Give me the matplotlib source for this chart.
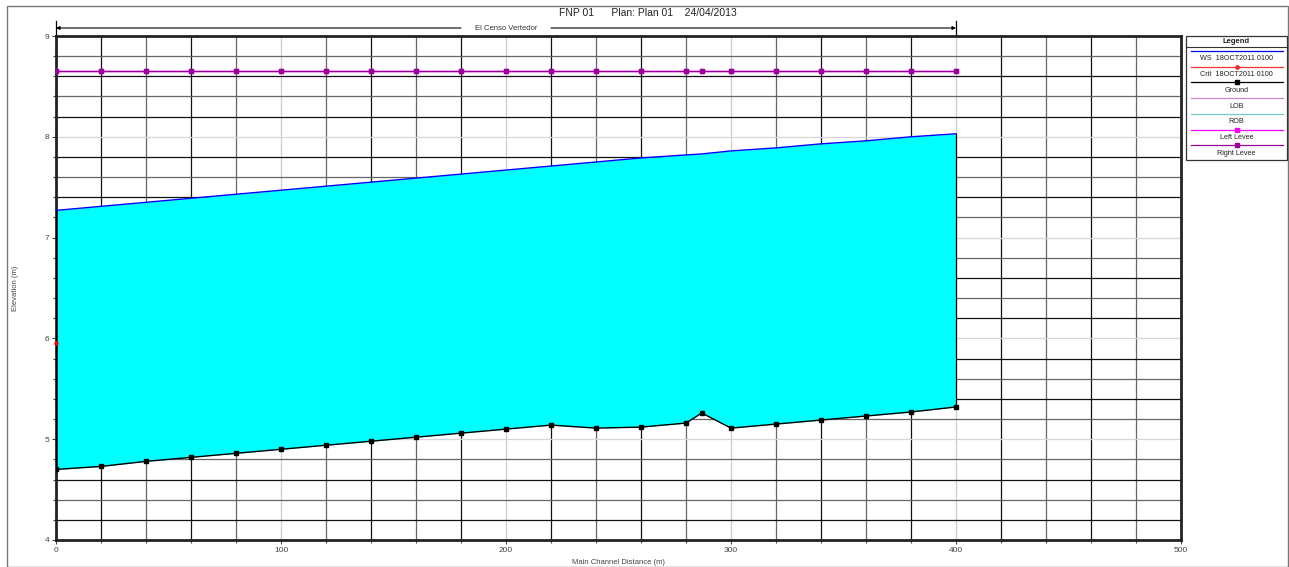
import numpy as np
import matplotlib
matplotlib.use("Agg")
import matplotlib.pyplot as plt
from matplotlib.patches import Rectangle
from matplotlib.lines import Line2D

plt.rcParams['font.family'] = ['Liberation Sans', 'DejaVu Sans']

# stations along the main channel (m)
station = [0, 20, 40, 60, 80, 100, 120, 140, 160, 180, 200, 220, 240, 260,
           280, 287, 300, 320, 340, 360, 380, 400]
ws_elev = [7.27, 7.31, 7.35, 7.39, 7.43, 7.47, 7.51, 7.55, 7.59, 7.63, 7.67,
           7.71, 7.75, 7.79, 7.82, 7.83, 7.86, 7.89, 7.93, 7.96, 8.00, 8.03]
ground_elev = [4.70, 4.73, 4.78, 4.82, 4.86, 4.90, 4.94, 4.98, 5.02, 5.06, 5.10,
               5.14, 5.11, 5.12, 5.16, 5.26, 5.11, 5.15, 5.19, 5.23, 5.27, 5.32]
levee_elev = [8.65] * len(station)
crit_station = [0]
crit_elev = [5.95]

title = "FNP 01      Plan: Plan 01    24/04/2013"
reach_name = "El Censo Vertedor"
legend_items = [("WS  18OCT2011 0100", "#0000ff", None),
                ("Crit  18OCT2011 0100", "#ff3030", "o"),
                ("Ground", "#000000", "s"),
                ("LOB", "#cc88cc", None),
                ("ROB", "#77cccc", None),
                ("Left Levee", "#ff00ff", "s"),
                ("Right Levee", "#990099", "s")]

W, H = 1289, 567
fig = plt.figure(figsize=(W / 100, H / 100), dpi=100)
ax = fig.add_axes([56 / W, 1 - 540 / H, (1181 - 56) / W, (540 - 36) / H])

ax.set_xlim(0, 500)
ax.set_ylim(4, 9)

# grid, drawn by hand so the shades vary like the original
for i, gx in enumerate(np.arange(20, 500, 20)):
    if gx % 100 == 0:
        c = "#cccccc"
    else:
        c = "#111111" if i % 2 == 0 else "#666666"
    ax.axvline(gx, color=c, lw=0.9, zorder=0)
for i, gy in enumerate(np.arange(4.2, 9.0, 0.2)):
    if abs(gy - round(gy)) < 1e-6:
        c = "#d6d6d6"
    else:
        c = "#111111" if i % 2 == 0 else "#666666"
    ax.axhline(gy, color=c, lw=0.9, zorder=0)

# water between ground and water surface
ax.fill_between(station, ground_elev, ws_elev, color="#00ffff", zorder=2, lw=0)
ax.plot([station[-1], station[-1]], [ground_elev[-1], ws_elev[-1]], color="black", lw=0.9, zorder=3)
ax.plot([station[0], station[0]], [ground_elev[0], ws_elev[0]], color="black", lw=0.9, zorder=3)
ax.plot(station, ws_elev, color="#0000ff", lw=1.0, zorder=4)
ax.plot(station, ground_elev, color="black", lw=1.0, marker="s", ms=2.5, zorder=4)
ax.plot(station, levee_elev, color="#ff00ff", lw=1.0, marker="s", ms=2.5, zorder=4)
ax.plot(station, levee_elev, color="#990099", lw=1.0, marker="s", ms=2.5, zorder=5)
ax.plot(crit_station, crit_elev, color="#ff0000", marker="o", ms=2.2, lw=0, zorder=6, clip_on=False)

for s in ax.spines.values():
    s.set_linewidth(2.0)
    s.set_color("#222222")

ax.set_xticks(np.arange(0, 501, 100))
ax.set_xticks(np.arange(0, 501, 20), minor=True)
ax.set_yticks(np.arange(4, 9.01, 1))
ax.set_yticks(np.arange(4, 9.01, 0.2), minor=True)
ax.tick_params(axis="both", which="major", labelsize=6, length=3, width=0.8,
               colors="#444444", labelcolor="#444444", pad=2)
ax.tick_params(axis="both", which="minor", length=2.5, width=0.8, colors="#444444")
ax.set_xlabel("Main Channel Distance (m)", fontsize=5.5, color="#444444", labelpad=4)
ax.set_ylabel("Elevation (m)", fontsize=5.5, color="#444444", labelpad=18)

# reach annotation above the plot: arrow line with a gap for the name
ya = 9 + 8 / 100.8
arrow_kw = dict(arrowstyle="-|>", color="black", lw=0.8, mutation_scale=5, shrinkA=0, shrinkB=0)
ax.annotate("", xy=(0, ya), xytext=(180, ya), annotation_clip=False, arrowprops=arrow_kw)
ax.annotate("", xy=(400, ya), xytext=(220, ya), annotation_clip=False, arrowprops=arrow_kw)
ax.plot([0, 0], [9, 9 + 15 / 100.8], color="black", lw=0.9, clip_on=False)
ax.plot([400, 400], [9, 9 + 15 / 100.8], color="black", lw=0.9, clip_on=False)
ax.text(200, ya, reach_name, ha="center", va="center", fontsize=5.5, color="#333333", zorder=11)

fig.text(648 / W, 1 - 13 / H, title, ha="center", va="center", fontsize=7.5, color="#222222")

# outer frame
fig.add_artist(Rectangle((7 / W, 0), (1288 - 7) / W, 1 - 6 / H, transform=fig.transFigure,
                         fill=False, edgecolor="#777777", lw=1.0))

# legend box, drawn by hand (line sample above each name)
def fx(px):
    return px / W

def fy(py):
    return 1 - py / H

fig.add_artist(Rectangle((fx(1186), fy(159.5)), fx(1287 - 1186), (159.5 - 35.5) / H,
                         transform=fig.transFigure, fill=False, edgecolor="#333333", lw=0.9))
fig.add_artist(Line2D([fx(1186), fx(1287)], [fy(46.5), fy(46.5)], transform=fig.transFigure,
                      color="#333333", lw=0.8))
fig.text(fx(1236.5), fy(41.5), "Legend", ha="center", va="center", fontsize=5.5,
         fontweight="bold", color="#222222")
for k, (name, col, mk) in enumerate(legend_items):
    yl = 51 + k * 15.7
    yt = yl + 8
    fig.add_artist(Line2D([fx(1191), fx(1283)], [fy(yl), fy(yl)], transform=fig.transFigure,
                          color=col, lw=0.9))
    if mk is not None:
        fig.add_artist(Line2D([fx(1237)], [fy(yl)], transform=fig.transFigure, color=col,
                              marker=mk, ms=2.5, lw=0))
    fig.text(fx(1236.5), fy(yt), name, ha="center", va="center", fontsize=5.2, color="#222222")

fig.savefig("out.png", dpi=100)
